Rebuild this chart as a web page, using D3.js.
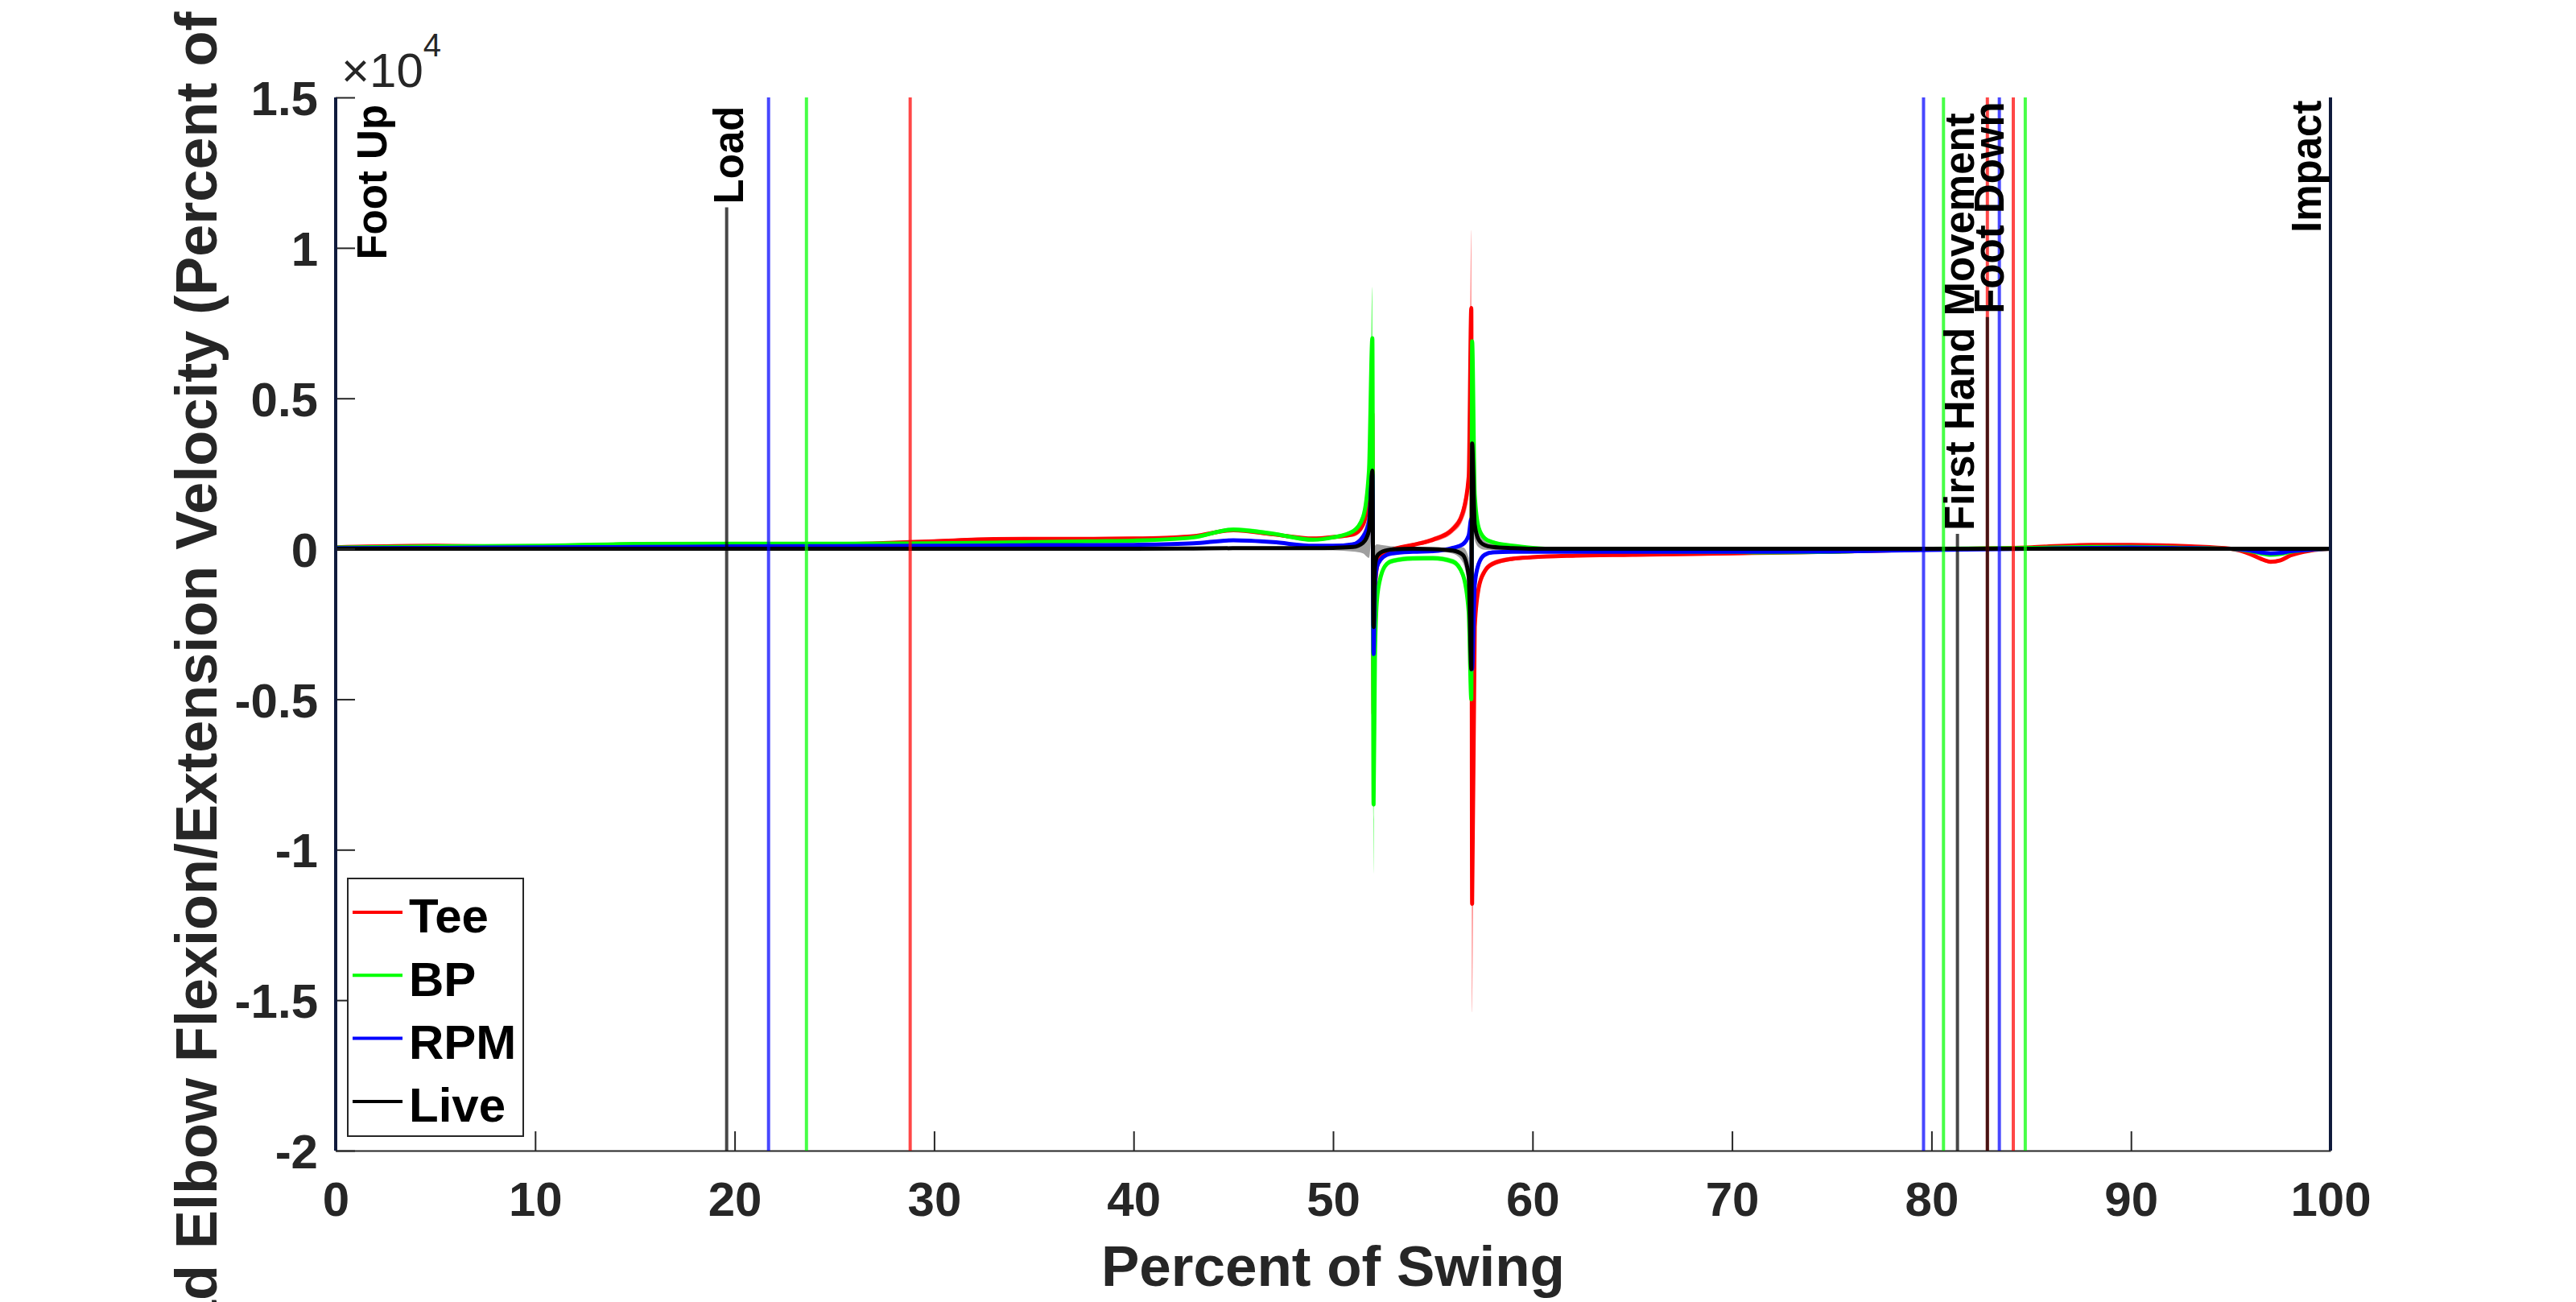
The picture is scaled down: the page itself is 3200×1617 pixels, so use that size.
<!DOCTYPE html>
<html>
<head>
<meta charset="utf-8">
<script src="https://cdn.jsdelivr.net/npm/d3@7"></script>
<style>
    body { margin: 0; background: #fff; }
</style>
</head>
<body>
<script>
// percent of swing sample points (denser round the two spikes)
let pct = [0, 5, 10, 15, 20, 25, 30, 33, 35, 38,
    40, 43, 45, 47, 49, 50, 51, 51.5, 51.8, 51.97,
    52.03, 52.1, 52.2, 52.4, 52.7, 53, 54, 55, 56, 56.5,
    56.8, 56.93, 56.97, 57.1, 57.3, 57.6, 58, 59, 60, 62,
    65, 70, 72, 75, 78, 80, 85, 88, 90, 93,
    95, 96, 96.5, 97, 97.5, 98, 99, 100];

let teeMean = [50, 100, 70, 80, 100, 140, 250, 320, 330, 330,
    340, 420, 620, 480, 340, 390, 480, 800, 1900, 4500,
    -5500, -1500, -600, -250, -100, -20, 130, 300, 650, 1200,
    2400, 8000, -11800, -2600, -1300, -750, -500, -330, -280, -230,
    -200, -150, -130, -100, -50, -20, 50, 130, 130, 80,
    0, -180, -330, -430, -380, -220, -60, 0];
let teeSd = [40, 50, 40, 40, 40, 50, 60, 60, 60, 60,
    60, 60, 60, 60, 60, 60, 80, 150, 400, 1500,
    1400, 400, 150, 80, 60, 60, 60, 80, 120, 250,
    600, 2600, 3600, 600, 250, 120, 90, 70, 60, 60,
    60, 60, 60, 60, 50, 40, 40, 40, 40, 40,
    40, 50, 60, 60, 60, 50, 40, 30];

let bpMean = [40, 80, 100, 160, 170, 170, 180, 200, 220, 250,
    270, 380, 640, 500, 300, 380, 580, 1050, 2600, 7000,
    -8500, -3500, -1700, -900, -500, -400, -320, -310, -420, -850,
    -2100, -5000, 6900, 1800, 700, 350, 220, 100, 30, -30,
    -80, -100, -120, -100, -30, 0, 30, 60, 60, 30,
    0, -80, -150, -200, -170, -100, -30, 0];
let bpSd = [40, 50, 50, 50, 50, 50, 50, 50, 50, 50,
    50, 60, 70, 70, 60, 60, 80, 150, 500, 1700,
    2300, 600, 300, 150, 90, 80, 80, 80, 90, 150,
    300, 500, 800, 300, 120, 80, 60, 50, 50, 50,
    50, 50, 50, 50, 40, 40, 40, 40, 40, 40,
    40, 40, 50, 50, 50, 40, 40, 30];

let rpmMean = [20, 30, 50, 60, 80, 90, 100, 110, 120, 120,
    130, 180, 280, 220, 100, 100, 150, 400, 900, 2500,
    -3500, -1200, -600, -350, -200, -150, -100, -80, 30, 150,
    450, 1000, -4000, -1200, -500, -200, -120, -100, -100, -100,
    -100, -100, -100, -90, -60, -40, 0, 30, 40, 20,
    0, -60, -120, -150, -130, -80, -30, 0];
let rpmSd = [30, 30, 30, 30, 30, 30, 30, 30, 30, 30,
    30, 40, 50, 40, 40, 40, 60, 100, 200, 1300,
    1500, 400, 200, 100, 60, 50, 40, 40, 50, 80,
    150, 400, 1000, 400, 150, 80, 60, 40, 40, 40,
    40, 40, 40, 40, 30, 30, 30, 30, 30, 30,
    30, 30, 40, 40, 40, 30, 30, 30];

let liveMean = [0, 0, 0, 0, 0, 0, 0, 0, 0, 0,
    0, 10, 20, 20, 20, 30, 60, 200, 600, 2600,
    -2600, -600, -250, -120, -50, -20, 0, -10, -60, -200,
    -900, -4000, 3500, 800, 300, 120, 60, 20, 0, 0,
    0, 0, 0, 0, 0, 0, 0, 0, 0, 0,
    0, 0, 0, 0, 0, 0, 0, 0];
let liveSd = [30, 30, 30, 30, 30, 30, 30, 30, 30, 30,
    30, 30, 40, 40, 50, 80, 150, 350, 900, 2000,
    2000, 700, 400, 250, 150, 100, 60, 60, 100, 250,
    600, 1200, 1200, 500, 250, 150, 100, 60, 40, 30,
    30, 30, 30, 30, 30, 30, 30, 30, 30, 30,
    30, 30, 30, 30, 30, 30, 30, 30];

let groups = ["Tee", "BP", "RPM", "Live"];
let groupColors = ["#ff0000", "#00ff00", "#0000ff", "#000000"];
let bandColors = ["#ff0000", "#00ff00", "#0000ff", "#7f7f7f"];

// swing events, percent of swing for each group
let eventNames = ["Foot Up", "Load", "First Hand Movement", "Foot Down", "Impact"];
let teeEvents = [0, 28.8, 82.8, 84.1, 100];
let bpEvents = [0, 23.6, 80.6, 84.7, 100];
let rpmEvents = [0, 21.7, 79.6, 83.4, 100];
let liveEvents = [0, 19.6, 81.3, 82.8, 100];
let labelPct = [1.7, 19.6, 81.3, 82.8, 98.7];
let labelValue = [9500, 11350, 500, 7700, 10400];
let liveLineTop = [15000, 11350, 500, 7700, 15000];

let xTicks = [0, 10, 20, 30, 40, 50, 60, 70, 80, 90, 100];
let yTicks = [-20000, -15000, -10000, -5000, 0, 5000, 10000, 15000];

function main() {
    let W = 3200, H = 1617;
    let left = 417, right = 2895, top = 121, bottom = 1429;
    let font = "'Liberation Sans', Arial, Helvetica, sans-serif";
    let axisGray = "#262626";

    let svg = d3.select("body").append("svg")
        .attr("width", W)
        .attr("height", H)
        .style("display", "block");

    svg.append("rect").attr("width", W).attr("height", H).attr("fill", "#fff");

    let x = d3.scaleLinear().domain([0, 100]).range([left, right]);
    let y = d3.scaleLinear().domain([-20000, 15000]).range([bottom, top]);

    svg.append("clipPath").attr("id", "plotclip")
        .append("rect")
        .attr("x", left).attr("y", top)
        .attr("width", right - left).attr("height", bottom - top);

    let means = [teeMean, bpMean, rpmMean, liveMean];
    let sds = [teeSd, bpSd, rpmSd, liveSd];
    let events = [teeEvents, bpEvents, rpmEvents, liveEvents];

    let series = groups.map(function(g, i) {
        return {
            name: g,
            color: groupColors[i],
            band: bandColors[i],
            points: pct.map(function(p, j) {
                return { p: p, m: means[i][j], s: sds[i][j] };
            })
        };
    });

    let plot = svg.append("g").attr("clip-path", "url(#plotclip)");

    let area = d3.area()
        .curve(d3.curveMonotoneX)
        .x(function(d) { return x(d.p); })
        .y0(function(d) { return y(d.m - d.s); })
        .y1(function(d) { return y(d.m + d.s); });

    let line = d3.line()
        .curve(d3.curveMonotoneX)
        .x(function(d) { return x(d.p); })
        .y(function(d) { return y(d.m); });

    plot.selectAll(".band")
        .data(series)
        .enter()
        .append("path")
        .attr("class", "band")
        .attr("d", function(d) { return area(d.points); })
        .attr("fill", function(d) { return d.band; })
        .attr("fill-opacity", function(d) { return d.name == "Live" ? 0.75 : 0.5; })
        .attr("stroke", "none");

    plot.selectAll(".mean")
        .data(series)
        .enter()
        .append("path")
        .attr("class", "mean")
        .attr("d", function(d) { return line(d.points); })
        .attr("fill", "none")
        .attr("stroke", function(d) { return d.color; })
        .attr("stroke-width", 5)
        .attr("stroke-linejoin", "round");

    // axes (MATLAB style, ticks pointing in, no box)
    let xAxis = svg.append("g")
        .attr("transform", "translate(0," + bottom + ")")
        .call(d3.axisBottom(x).tickValues(xTicks).tickSizeInner(-24).tickSizeOuter(0)
            .tickFormat(function(d) { return String(d); }));
    xAxis.select(".domain").attr("stroke", axisGray).attr("stroke-width", 2);
    xAxis.selectAll(".tick line").attr("stroke", axisGray).attr("stroke-width", 2);
    xAxis.selectAll(".tick text")
        .attr("y", 81).attr("dy", 0)
        .attr("fill", axisGray)
        .attr("font-family", font).attr("font-weight", "bold").attr("font-size", 60);

    let yAxis = svg.append("g")
        .attr("transform", "translate(" + left + ",0)")
        .call(d3.axisLeft(y).tickValues(yTicks).tickSizeInner(-24).tickSizeOuter(0)
            .tickFormat(function(d) { return String(d / 10000); }));
    yAxis.select(".domain").attr("stroke", axisGray).attr("stroke-width", 2);
    yAxis.selectAll(".tick line").attr("stroke", axisGray).attr("stroke-width", 2);
    yAxis.selectAll(".tick text")
        .attr("x", -22).attr("dy", "0.36em")
        .attr("fill", axisGray)
        .attr("font-family", font).attr("font-weight", "bold").attr("font-size", 60);

    // exponent label
    let expo = svg.append("text")
        .attr("x", 424).attr("y", 108)
        .attr("fill", axisGray)
        .attr("font-family", font).attr("font-size", 60);
    expo.append("tspan").text("\u00d710");
    expo.append("tspan").attr("dy", -38).attr("font-size", 40).text("4");

    // event lines
    let evLines = [];
    events.forEach(function(ev, gi) {
        ev.forEach(function(v, ei) {
            evLines.push({ g: gi, v: v, topVal: gi == 3 ? liveLineTop[ei] : 15000 });
        });
    });

    svg.append("g").selectAll("line")
        .data(evLines)
        .enter()
        .append("line")
        .attr("x1", function(d) { return x(d.v); })
        .attr("x2", function(d) { return x(d.v); })
        .attr("y1", y(-20000))
        .attr("y2", function(d) { return y(d.topVal); })
        .attr("stroke", function(d) {
            if (d.g == 3 && (d.v == 0 || d.v == 100)) return "#0f1a3c";
            return groupColors[d.g];
        })
        .attr("stroke-opacity", function(d) {
            if (d.g == 3 && (d.v == 0 || d.v == 100)) return 1;
            return 0.72;
        })
        .attr("stroke-width", 4);

    svg.append("g").selectAll("text")
        .data(eventNames)
        .enter()
        .append("text")
        .attr("transform", function(d, i) {
            return "translate(" + x(labelPct[i]) + "," + (y(labelValue[i]) - 4) + ") rotate(-90)";
        })
        .attr("dy", "0.4em")
        .attr("text-anchor", "start")
        .attr("font-family", font).attr("font-weight", "bold").attr("font-size", 51)
        .attr("fill", "#000")
        .text(function(d) { return d; });

    // axis titles
    svg.append("text")
        .attr("x", (left + right) / 2).attr("y", 1597)
        .attr("text-anchor", "middle")
        .attr("fill", axisGray)
        .attr("font-family", font).attr("font-weight", "bold").attr("font-size", 71)
        .text("Percent of Swing");

    svg.append("text")
        .attr("transform", "translate(269,1739) rotate(-90)")
        .attr("text-anchor", "start")
        .attr("fill", axisGray)
        .attr("font-family", font).attr("font-weight", "bold").attr("font-size", 72)
        .text("Lead Elbow Flexion/Extension Velocity (Percent of Max)");

    // legend
    let legend = svg.append("g");
    legend.append("rect")
        .attr("x", 432).attr("y", 1091)
        .attr("width", 218).attr("height", 320)
        .attr("fill", "#fff")
        .attr("stroke", axisGray).attr("stroke-width", 2);

    let items = legend.selectAll(".item")
        .data(groups)
        .enter()
        .append("g")
        .attr("class", "item")
        .attr("transform", function(d, i) { return "translate(0," + (1133 + i * 78.3) + ")"; });

    items.append("line")
        .attr("x1", 438).attr("x2", 500)
        .attr("stroke", function(d, i) { return groupColors[i]; })
        .attr("stroke-width", 4);

    items.append("text")
        .attr("x", 508).attr("dy", "0.42em")
        .attr("font-family", font).attr("font-weight", "bold").attr("font-size", 60)
        .attr("fill", "#000")
        .text(function(d) { return d; });
}

main();
</script>
</body>
</html>
